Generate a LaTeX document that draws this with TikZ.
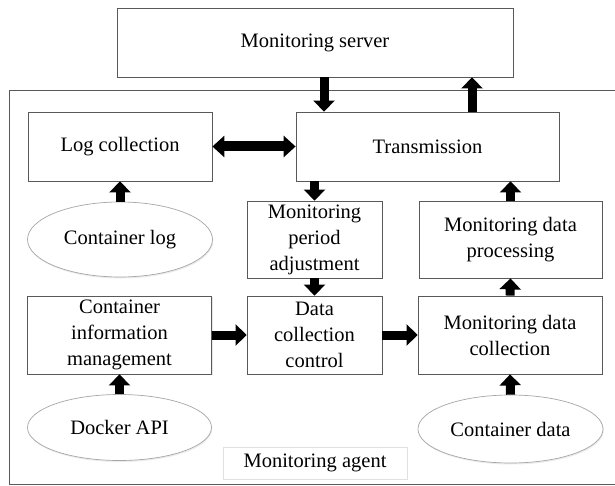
\documentclass[tikz,border=0pt]{standalone}
\usepackage{fontspec}
\setmainfont{Liberation Serif}
\usetikzlibrary{shapes.geometric,arrows.meta,shadows}
\begin{document}
\begin{tikzpicture}[x=1pt,y=-1pt,
  every node/.style={font=\fontsize{20.5}{26}\selectfont, text=black},
  box/.style={draw=black!65, line width=0.8pt, fill=white, inner sep=0pt, align=center,
    drop shadow={opacity=0.2, shadow xshift=1pt, shadow yshift=-1.2pt}},
  oval/.style={ellipse, draw=black!35, line width=0.7pt, fill=white, inner sep=0pt, align=center,
    drop shadow={opacity=0.15, shadow xshift=0.8pt, shadow yshift=-1.5pt}},
  blk/.style={line width=9pt, black, -{Triangle[width=21pt,length=11pt]}},
  dblk/.style={line width=10pt, black, {Triangle[width=21pt,length=12pt]}-{Triangle[width=21pt,length=12pt]}}
]
\useasboundingbox (0,0) rectangle (615,486);
\fill[white] (0,0) rectangle (615,486);
% outer agent frame
\draw[black!65, line width=0.8pt] (9,90) rectangle (620,484);

\node[box, minimum width=396pt, minimum height=69pt] (server) at (315,42.5) {Monitoring server};
\node[box, minimum width=184pt, minimum height=69pt] (log) at (120,146.5) {Log collection};
\node[box, minimum width=263pt, minimum height=69pt] (trans) at (427.5,146.5) {Transmission};
\node[oval, minimum width=185pt, minimum height=75pt] (clog) at (120,239.5) {Container log};
\node[box, minimum width=135pt, minimum height=77pt] (mpa) at (314.5,239.5) {Monitoring\\period\\adjustment};
\node[box, minimum width=183pt, minimum height=77pt] (mdp) at (510.5,239.5) {Monitoring data\\processing};
\node[box, minimum width=184pt, minimum height=78pt] (cim) at (119.5,335) {Container\\information\\management};
\node[box, minimum width=135pt, minimum height=78pt] (dcc) at (314.5,335) {Data\\collection\\control};
\node[box, minimum width=184pt, minimum height=78pt] (mdc) at (510,335) {Monitoring data\\collection};
\node[oval, minimum width=184pt, minimum height=66pt] (docker) at (119.5,427.5) {Docker API};
\node[oval, minimum width=185pt, minimum height=68pt] (cdata) at (510.5,429) {Container data};
\node[draw=black!12, fill=white, minimum width=184pt, minimum height=32pt, inner sep=0pt,
  drop shadow={opacity=0.12, shadow xshift=0.8pt, shadow yshift=-1.2pt}] (agent) at (315,463) {Monitoring agent};

% connectors
\draw[blk] ([xshift=9pt]server.south) -- ([xshift=-103.5pt]trans.north);
\draw[blk] ([xshift=44.5pt]trans.north) -- ([xshift=157pt]server.south);
\draw[dblk] (log.east) -- (trans.west);
\draw[blk] (clog.north) -- (log.south);
\draw[blk] (trans.south -| mpa.north) -- (mpa.north);
\draw[blk] (mdp.north) -- (mdp.north |- trans.south);
\draw[blk] (mpa.south) -- (dcc.north);
\draw[blk] (mdc.north) -- (mdp.south);
\draw[blk] (cim.east) -- (dcc.west);
\draw[blk] (dcc.east) -- (mdc.west);
\draw[blk] (docker.north) -- (cim.south);
\draw[blk] (cdata.north) -- (mdc.south);
\end{tikzpicture}
\end{document}
